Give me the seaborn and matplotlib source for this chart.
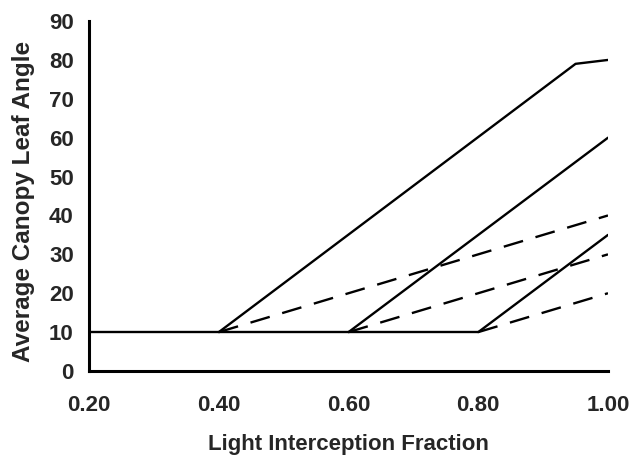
import matplotlib
matplotlib.use("Agg")
import matplotlib.pyplot as plt
import seaborn as sns
import pandas as pd

# Light interception fraction (x) vs. average canopy leaf angle (y, degrees)
base_x = [0.20, 0.40, 0.60, 0.80]
base_y = [10, 10, 10, 10]

steep_40_x = [0.40, 0.95, 1.00]
steep_40_y = [10, 79, 80]
steep_60_x = [0.60, 1.00]
steep_60_y = [10, 60]
steep_80_x = [0.80, 1.00]
steep_80_y = [10, 35]

shallow_40_x = [0.40, 1.00]
shallow_40_y = [10, 40]
shallow_60_x = [0.60, 1.00]
shallow_60_y = [10, 30]
shallow_80_x = [0.80, 1.00]
shallow_80_y = [10, 20]

x_ticks = [0.20, 0.40, 0.60, 0.80, 1.00]
y_ticks = list(range(0, 100, 10))

series = [
    ("base", base_x, base_y, "solid"),
    ("steep_40", steep_40_x, steep_40_y, "solid"),
    ("steep_60", steep_60_x, steep_60_y, "solid"),
    ("steep_80", steep_80_x, steep_80_y, "solid"),
    ("shallow_40", shallow_40_x, shallow_40_y, "dashed"),
    ("shallow_60", shallow_60_x, shallow_60_y, "dashed"),
    ("shallow_80", shallow_80_x, shallow_80_y, "dashed"),
]
frames = []
for name, xs, ys, kind in series:
    frames.append(pd.DataFrame({"x": xs, "y": ys, "series": name, "kind": kind}))
df = pd.concat(frames, ignore_index=True)

sns.set_style("white")
plt.rcParams["font.family"] = ["Liberation Sans", "DejaVu Sans"]
plt.rcParams["font.weight"] = "bold"

fig = plt.figure(figsize=(6.32, 4.58), dpi=100)
ax = fig.add_axes([0.141, 0.19, 0.821, 0.764])

sns.lineplot(
    data=df, x="x", y="y", units="series", estimator=None,
    style="kind", dashes={"solid": "", "dashed": (8.5, 5.5)},
    color="black", linewidth=1.7, sort=False, legend=False, ax=ax,
)

ax.set_xlim(0.2, 1.0)
ax.set_ylim(0, 90)
ax.set_xticks(x_ticks)
ax.set_xticklabels([f"{v:.2f}" for v in x_ticks])
ax.set_yticks(y_ticks)
ax.tick_params(axis="both", direction="out", length=5, width=2,
               labelsize=16, pad=6, color="black")
for lbl in ax.get_xticklabels() + ax.get_yticklabels():
    lbl.set_fontweight("bold")
ax.tick_params(axis="x", pad=12)

for side in ("top", "right"):
    ax.spines[side].set_visible(False)
for side in ("left", "bottom"):
    ax.spines[side].set_linewidth(2.2)
    ax.spines[side].set_color("black")

ax.set_xlabel("Light Interception Fraction", fontsize=16, fontweight="bold", labelpad=13)
ax.set_ylabel("Average Canopy Leaf Angle", fontsize=17.5, fontweight="bold")
ax.yaxis.set_label_coords(-0.104, 0.485)

fig.savefig("out.png", dpi=100, facecolor="white")
